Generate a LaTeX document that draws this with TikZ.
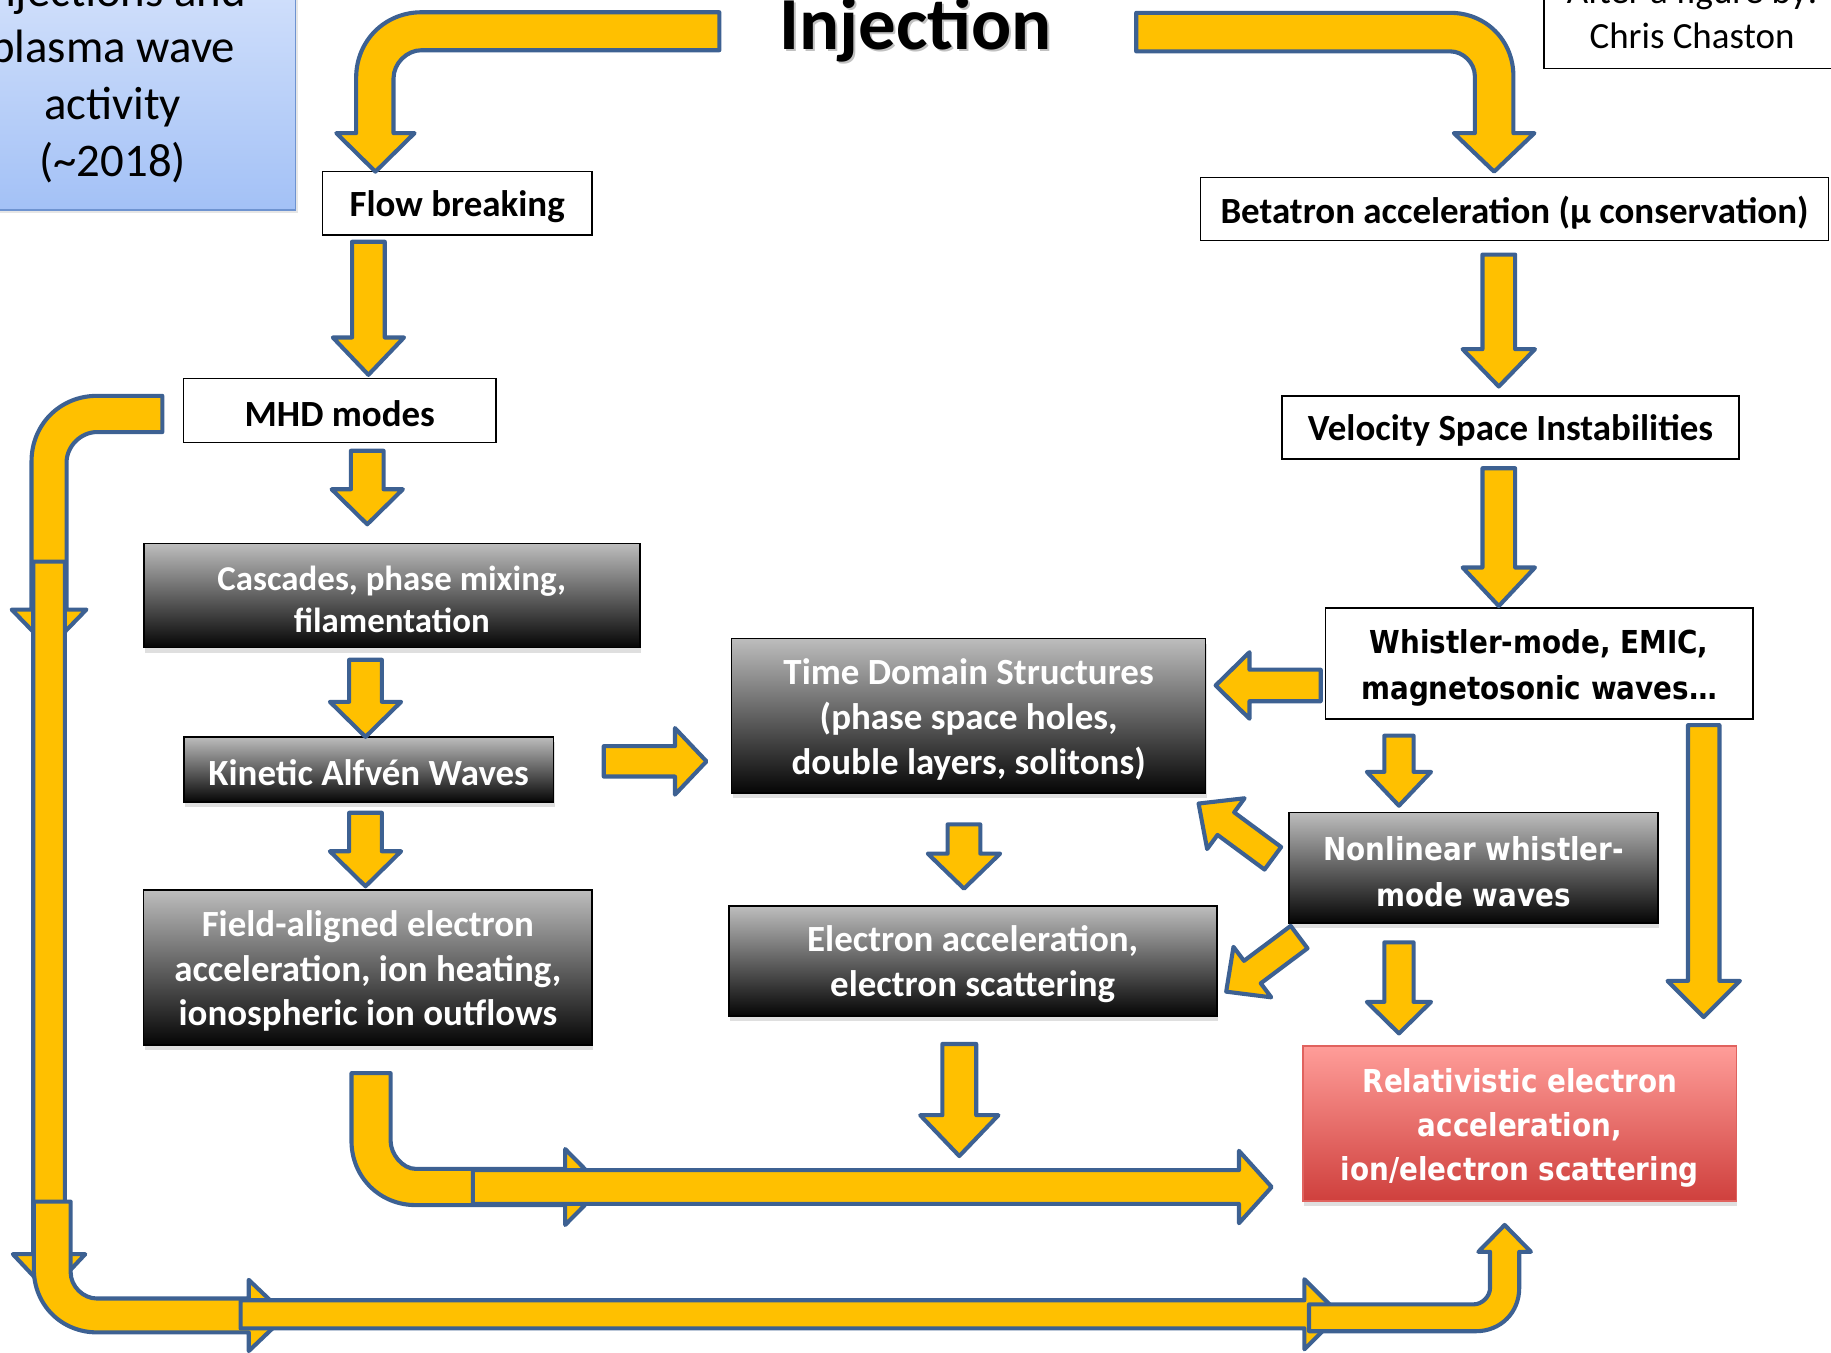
\documentclass[tikz,border=0pt]{standalone}
\usepackage{fontspec}
\setmainfont{Carlito}
\newfontfamily\tahomafont[FakeStretch=0.88]{DejaVu Sans}
\usetikzlibrary{shadows}

\definecolor{arrowfill}{HTML}{FFC000}
\definecolor{arrowline}{HTML}{3D6192}
\definecolor{graytop}{HTML}{BDBDBD}
\definecolor{graymid}{HTML}{767676}
\definecolor{graybot}{HTML}{050505}
\definecolor{redtop}{HTML}{FF9D99}
\definecolor{redbot}{HTML}{CF403D}
\definecolor{redline}{HTML}{E0625E}
\definecolor{bluetop}{HTML}{D9E5FC}
\definecolor{bluebot}{HTML}{A3C1F6}
\definecolor{blueline}{HTML}{6E93D0}

% one text line, set a little lower in its box
\newcommand{\lowr}[2][1.7pt]{\raisebox{-#1}[\height][\depth]{#2}}

\tikzset{
  barrow/.style={fill=arrowfill, draw=arrowline, line width=2pt, line join=round},
  pics/barr/.style n args={4}{code={
    \draw[barrow] (0,-#2) -- ({#1-#4},-#2) -- ({#1-#4},-#3) -- (#1,0)
      -- ({#1-#4},#3) -- ({#1-#4},#2) -- (0,#2) -- cycle;
  }},
  whitebox/.style={draw=black, line width=0.8pt, fill=white, inner sep=0pt, align=center,
    font=\fontsize{18}{21.9}\selectfont\bfseries},
  graybox/.style={draw=black, line width=0.8pt, inner sep=0pt, align=center, text=white,
    top color=graytop, middle color=graymid, bottom color=graybot,
    drop shadow={shadow xshift=0.5pt, shadow yshift=-2.5pt, opacity=0.25},
    font=\fontsize{18}{21.9}\selectfont\bfseries},
  wavebox/.style={font=\tahomafont\fontsize{15.4}{22.2}\selectfont\bfseries},
  redbox/.style={draw=redline, line width=0.8pt, inner sep=0pt, align=center, text=white,
    top color=redtop, bottom color=redbot,
    drop shadow={shadow xshift=0.5pt, shadow yshift=-2.5pt, opacity=0.25},
    font=\tahomafont\fontsize{15.4}{21.6}\selectfont\bfseries},
  notebox/.style={draw=blueline, line width=0.8pt, inner sep=0pt, align=center,
    top color=bluetop, bottom color=bluebot,
    drop shadow={shadow xshift=1.5pt, shadow yshift=-1.5pt, opacity=0.2},
    font=\fontsize{22.8}{27.6}\selectfont},
  titletext/.style={anchor=base, font=\fontsize{36.5}{41}\selectfont\bfseries}
}

\begin{document}
\begin{tikzpicture}[x=0.02cm, y=-0.02cm]
  \useasboundingbox (0,0) rectangle (1568,1158);
  \clip (0,0) rectangle (1568,1158);

  % Notes and title
  \node[notebox, minimum width=6.26cm, minimum height=4.52cm] (note) at (96.5,67)
    {Injections and\\plasma wave\\activity\\(\textasciitilde2018)};
  \node[whitebox, font=\fontsize{18}{21.6}\selectfont, minimum width=5.08cm, minimum height=1.884cm]
    (author) at (1449,11.5) {After a figure by:\\Chris Chaston};
  \node[titletext, text=black!35, opacity=0.7] (injshadow) at (786,44.5) {Injection};
  \node[titletext] (inj) at (784,42) {Injection};

  % White boxes
  \node[whitebox, minimum width=4.62cm, minimum height=1.08cm] (flow) at (391.5,174) {\lowr{Flow breaking}};
  \node[whitebox, minimum width=10.76cm, minimum height=1.08cm] (beta) at (1297,179)
    {\lowr{Betatron acceleration (µ conservation)}};
  \node[whitebox, minimum width=5.36cm, minimum height=1.1cm] (mhd) at (291,351.5) {\lowr{MHD modes}};
  \node[whitebox, minimum width=7.82cm, minimum height=1.08cm] (vsi) at (1293.5,366)
    {\lowr{Velocity Space Instabilities}};
  \node[whitebox, wavebox, minimum width=7.32cm, minimum height=1.9cm] (whistler) at (1318,568)
    {\lowr[2.3pt]{Whistler-mode, EMIC,}\\\lowr[2.3pt]{magnetosonic waves…}};

  % Gray boxes
  \node[graybox, font=\fontsize{17}{20.5}\selectfont\bfseries, minimum width=8.5cm, minimum height=1.78cm]
    (casc) at (335.5,510) {\lowr{Cascades, phase mixing,}\\\lowr{filamentation}};
  \node[graybox, minimum width=6.33cm, minimum height=1.12cm] (kaw) at (315.75,659)
    {\lowr{Kinetic Alfvén Waves}};
  \node[graybox, minimum width=7.68cm, minimum height=2.66cm] (field) at (315,828.5)
    {\lowr{Field-aligned electron}\\\lowr{acceleration, ion heating,}\\\lowr{ionospheric ion outflows}};
  \node[graybox, minimum width=8.12cm, minimum height=2.65cm] (tds) at (829.5,613)
    {\lowr{Time Domain Structures}\\\lowr{(phase space holes,}\\\lowr{double layers, solitons)}};
  \node[graybox, minimum width=8.36cm, minimum height=1.88cm] (eacc) at (833,823)
    {\lowr{Electron acceleration,}\\\lowr{electron scattering}};
  \node[graybox, wavebox, minimum width=6.32cm, minimum height=1.89cm] (nlw) at (1262,743)
    {\lowr[2pt]{Nonlinear whistler-}\\\lowr[2pt]{mode waves}};
  \node[redbox, minimum width=7.42cm, minimum height=2.65cm] (relat) at (1301.5,962)
    {\lowr[2.3pt]{Relativistic electron}\\\lowr[2.3pt]{acceleration,}\\\lowr[2.3pt]{ion/electron scattering}};

  % Bent arrows from the title
  \draw[barrow] (616,10.5) -- (361,10.5) .. controls (329.5,10.5) and (305,35) .. (305,66.5)
    -- (305,114) -- (288,114) -- (321.5,147) -- (355,114) -- (337,114) -- (337,67)
    .. controls (337,54.3) and (348.3,43) .. (361,43) -- (616,43) -- cycle;
  \draw[barrow] (973,11) -- (1242,11) .. controls (1272.4,11) and (1296,34.6) .. (1296,65)
    -- (1296,114) -- (1314,114) -- (1279.5,147) -- (1245,114) -- (1263,114) -- (1263,65)
    .. controls (1263,54) and (1253,44) .. (1242,44) -- (973,44) -- cycle;

  % Straight arrows
  \pic[rotate=-90] at (315.5,207) {barr={114}{14}{30.5}{32}};
  \pic[rotate=-90] at (314.5,386) {barr={63}{14}{30.5}{30}};
  \pic[rotate=-90] at (313,565) {barr={66}{14}{30.5}{30}};
  \pic[rotate=-90] at (313,696) {barr={63}{14}{30.5}{30}};
  \pic at (517,652) {barr={88}{13}{28.5}{27}};
  \pic[rotate=-90] at (825.5,706) {barr={55}{14}{31}{30}};
  \pic[rotate=180] at (1131,587) {barr={90}{13.5}{28.5}{29}};
  \pic[rotate=143.6] at (1090,735) {barr={79}{12}{27}{29}};
  \pic[rotate=216.8] at (1112.5,802.5) {barr={78}{12}{27}{28}};
  \pic[rotate=-90] at (1198,630) {barr={60}{12.5}{27.5}{29}};
  \pic[rotate=-90] at (1198,807) {barr={78}{12.5}{27.5}{27}};
  \pic[rotate=-90] at (1459,621) {barr={250}{13.5}{31}{31}};
  \pic[rotate=-90] at (1283.5,218) {barr={113}{14}{31}{32}};
  \pic[rotate=-90] at (1283.5,401) {barr={118}{14}{31}{33}};
  \pic[rotate=-90] at (821.5,894) {barr={96}{14.5}{33.5}{35}};

  % Field-aligned to the red box
  \draw[barrow] (301,919) -- (301,977) .. controls (301,1007.9) and (325.1,1032) .. (356,1032)
    -- (484,1032) -- (484,1049) -- (516,1016.5) -- (484,984) -- (484,1001) -- (356,1001)
    .. controls (344.7,1001) and (334.5,988.3) .. (334.5,977) -- (334.5,919) -- cycle;
  \pic at (405,1016.5) {barr={684}{14.5}{31}{28}};

  % Loop from MHD modes round the bottom
  \draw[barrow] (139,339) -- (83,339) .. controls (51.5,339) and (27,363.5) .. (27,395)
    -- (27,522) -- (10,522) -- (42,555) -- (74,522) -- (57,522) -- (57,396)
    .. controls (57,382.2) and (69.2,370) .. (83,370) -- (139,370) -- cycle;
  \pic[rotate=-90] at (42,481) {barr={626}{13.5}{31}{33}};
  \draw[barrow] (29,1029) -- (29,1087) .. controls (29,1117.4) and (52.6,1141) .. (83,1141)
    -- (213,1141) -- (213,1157) -- (245,1126.5) -- (213,1096) -- (213,1112) -- (83,1112)
    .. controls (71.1,1112) and (60.5,1101.4) .. (60.5,1089.5) -- (60.5,1029) -- cycle;
  \pic at (206,1125.5) {barr={941}{12}{30}{30}};
  \draw[barrow] (1121,1117) -- (1262,1117) .. controls (1269.2,1117) and (1276,1110.2) .. (1276,1103)
    -- (1276,1072) -- (1266,1072) -- (1288.5,1049) -- (1311,1072) -- (1301,1072) -- (1301,1103)
    .. controls (1301,1124) and (1285,1140) .. (1264,1140) -- (1121,1140) -- cycle;
\end{tikzpicture}
\end{document}
